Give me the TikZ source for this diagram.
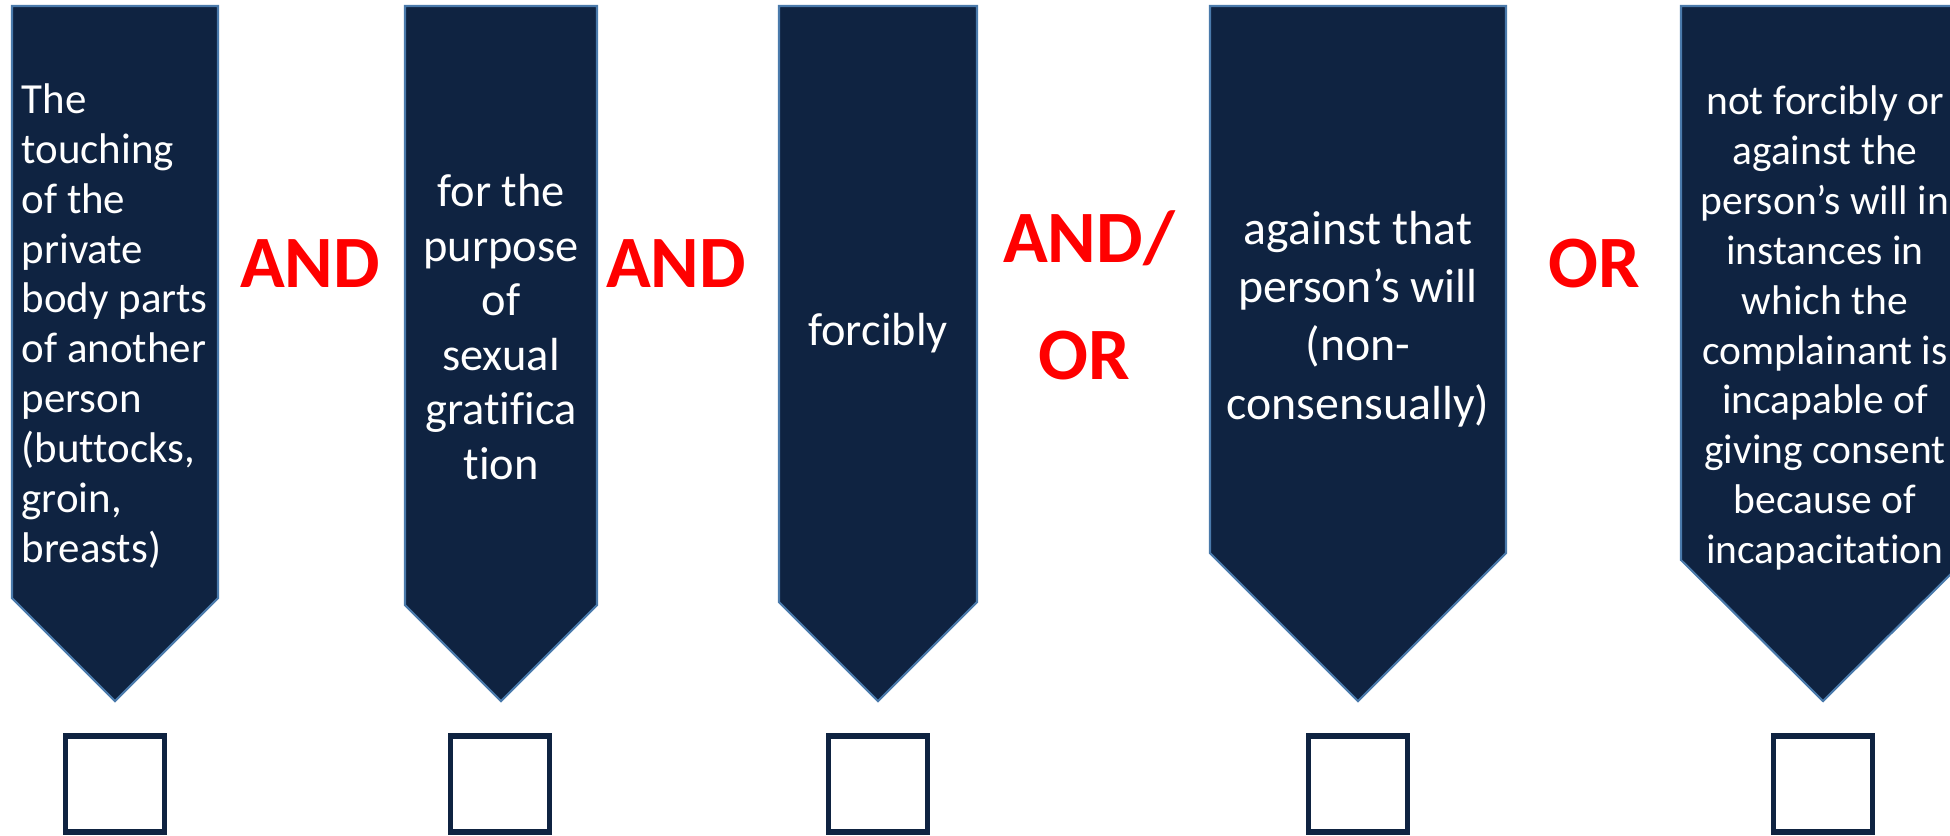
\documentclass[tikz,border=0pt]{standalone}
\usepackage{fontspec}
\setmainfont{Carlito}[Ligatures={NoCommon}]
\definecolor{navy}{HTML}{0F2341}
\definecolor{rimblue}{HTML}{4A7AAB}
\definecolor{opred}{HTML}{FF0000}

\begin{document}
\begin{tikzpicture}[line cap=round,line join=round,x=0.01cm,y=-0.01cm,
	banner/.style={fill=navy,draw=rimblue,line width=0.6pt,line join=miter},
	bannertext/.style={text=white,inner sep=0pt,align=center},
	tickbox/.style={draw=navy,line width=1.5pt,line join=miter,minimum width=0.99cm,minimum height=0.96cm,inner sep=0pt},
	oplabel/.style={text=opred,font=\fontsize{21}{25}\selectfont\bfseries,inner sep=0pt,anchor=base}]
	\useasboundingbox (0,0) rectangle (1950,835);
	\clip (0,0) rectangle (1950,835);
	% down arrows
	\draw [banner] (12,6) -- (218,6) -- (218,598) -- (115,701) -- (12,598) -- cycle;
	\draw [banner] (405,6) -- (597,6) -- (597,605) -- (501,701) -- (405,605) -- cycle;
	\draw [banner] (779,6) -- (977,6) -- (977,602) -- (878,701) -- (779,602) -- cycle;
	\draw [banner] (1210,6) -- (1506,6) -- (1506,553) -- (1358,701) -- (1210,553) -- cycle;
	\draw [banner] (1681,6) -- (1965,6) -- (1965,560) -- (1823,701) -- (1681,560) -- cycle;
	% texts
	\node [bannertext,align=left,anchor=west,font=\fontsize{12.2}{14.2}\selectfont] (t1) at (21,326) {The\\touching\\of the\\private\\body parts\\of another\\person\\(buttocks,\\groin,\\breasts)};
	\node [bannertext,font=\fontsize{13.2}{15.5}\selectfont] (t2) at (501,327) {for the\\purpose\\of\\sexual\\gratifica\\tion};
	\node [bannertext,font=\fontsize{13.2}{15.5}\selectfont] (t3) at (878,333) {forcibly};
	\node [bannertext,font=\fontsize{13.6}{16.6}\selectfont] (t4) at (1358,319) {against that\\person’s will\\(non-\\consensually)};
	\node [bannertext,font=\fontsize{11.8}{14.2}\selectfont] (t5) at (1825,328) {not forcibly or\\against the\\person’s will in\\instances in\\which the\\complainant is\\incapable of\\giving consent\\because of\\incapacitation};
	% connecting words
	\node [oplabel] (and1) at (310,287) {AND};
	\node [oplabel] (and2) at (676,287) {AND};
	\node [oplabel] (andor1) at (1089,262) {AND/};
	\node [oplabel] (andor2) at (1084,379) {OR};
	\node [oplabel] (or1) at (1594,287) {OR};
	% check boxes
	\node [tickbox] (box1) at (115,784) {};
	\node [tickbox] (box2) at (500,784) {};
	\node [tickbox] (box3) at (878,784) {};
	\node [tickbox] (box4) at (1358,784) {};
	\node [tickbox] (box5) at (1823,784) {};
\end{tikzpicture}
\end{document}
